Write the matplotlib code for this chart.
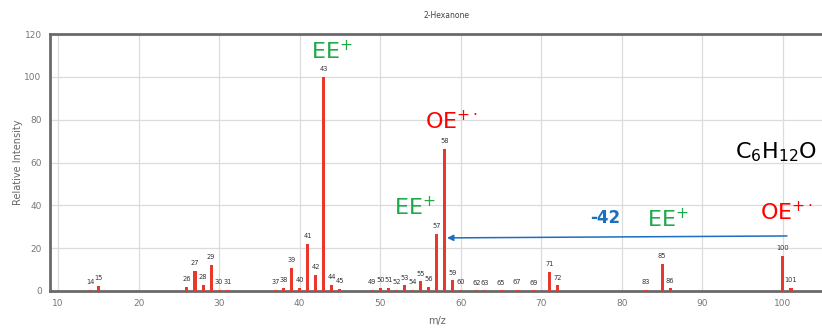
import matplotlib
matplotlib.use("Agg")
import matplotlib.pyplot as plt

# m/z values and relative intensities
mz = [14, 15, 26, 27, 28, 29, 30, 31, 37, 38, 39, 40, 41, 42, 43, 44, 45,
      49, 50, 51, 52, 53, 54, 55, 56, 57, 58, 59, 60, 62, 63, 65, 67, 69,
      71, 72, 83, 85, 86, 100, 101]
intensity = [0.6, 2.5, 2.0, 9.4, 3.0, 12.1, 0.6, 0.6, 0.6, 1.6, 10.8, 1.6,
             22.0, 7.5, 100.0, 3.0, 1.0, 0.5, 1.6, 1.6, 0.6, 2.6, 0.6, 4.5,
             2.0, 26.8, 66.5, 5.0, 0.6, 0.3, 0.3, 0.3, 0.6, 0.3,
             9.0, 2.6, 0.6, 12.6, 1.2, 16.5, 1.6]
x_ticks = [10, 20, 30, 40, 50, 60, 70, 80, 90, 100]
y_ticks = [0, 20, 40, 60, 80, 100, 120]

W, H = 822, 329
fig = plt.figure(figsize=(W / 100, H / 100), dpi=100)
ax = fig.add_axes([50 / W, (H - 291) / H, (W - 50) / W, (291 - 34) / H])

ax.bar(mz, intensity, width=0.38, color="#e8372c", zorder=3)
for m, v in zip(mz, intensity):
    ax.text(m, v + 2.2, str(m), ha="center", va="bottom", fontsize=4.8,
            color="#333333", zorder=4)

ax.set_xlim(9.0, 104.85)
ax.set_ylim(0, 120)
ax.set_xticks(x_ticks)
ax.set_yticks(y_ticks)
ax.grid(True, color="#dcdcdc", linewidth=0.9, zorder=0)
ax.tick_params(axis="both", length=0, labelsize=6.5, labelcolor="#777777", pad=6)
for side in ["left", "bottom", "top"]:
    ax.spines[side].set_color("#6a6a6a")
    ax.spines[side].set_linewidth(2)
ax.spines["right"].set_visible(False)

fig.text(437 / W, 1 - 321 / H, "m/z", fontsize=7, color="#666666",
         ha="center", va="center")
fig.text(18 / W, 1 - 162 / H, "Relative Intensity", fontsize=7, color="#666666",
         ha="center", va="center", rotation=90)
fig.text(446 / W, 1 - 16 / H, "2-Hexanone", fontsize=5.5, color="#444444",
         ha="center", va="center")

green = "#1faa4a"
red = "#ff0000"
blue = "#1a6fc0"
ax.text(44.0, 111.7, "EE$^{+}$", color=green, fontsize=16, ha="center", va="center")
ax.text(58.9, 79.0, "OE$^{+\\cdot}$", color=red, fontsize=16, ha="center", va="center")
ax.text(54.3, 38.8, "EE$^{+}$", color=green, fontsize=16, ha="center", va="center")
ax.text(99.1, 65.0, "C$_6$H$_{12}$O", color="black", fontsize=16, ha="center", va="center")
ax.text(77.9, 34.1, "-42", color=blue, fontsize=12, fontweight="bold",
        ha="center", va="center")
ax.text(85.7, 33.6, "EE$^{+}$", color=green, fontsize=16, ha="center", va="center")
ax.text(100.4, 36.9, "OE$^{+\\cdot}$", color=red, fontsize=16, ha="center", va="center")

ax.annotate("", xy=(58.3, 24.8), xytext=(100.5, 25.7),
            arrowprops=dict(arrowstyle="-|>", color=blue, lw=1.1,
                            mutation_scale=9, shrinkA=0, shrinkB=0), zorder=5)

fig.savefig("out.png", dpi=100)
